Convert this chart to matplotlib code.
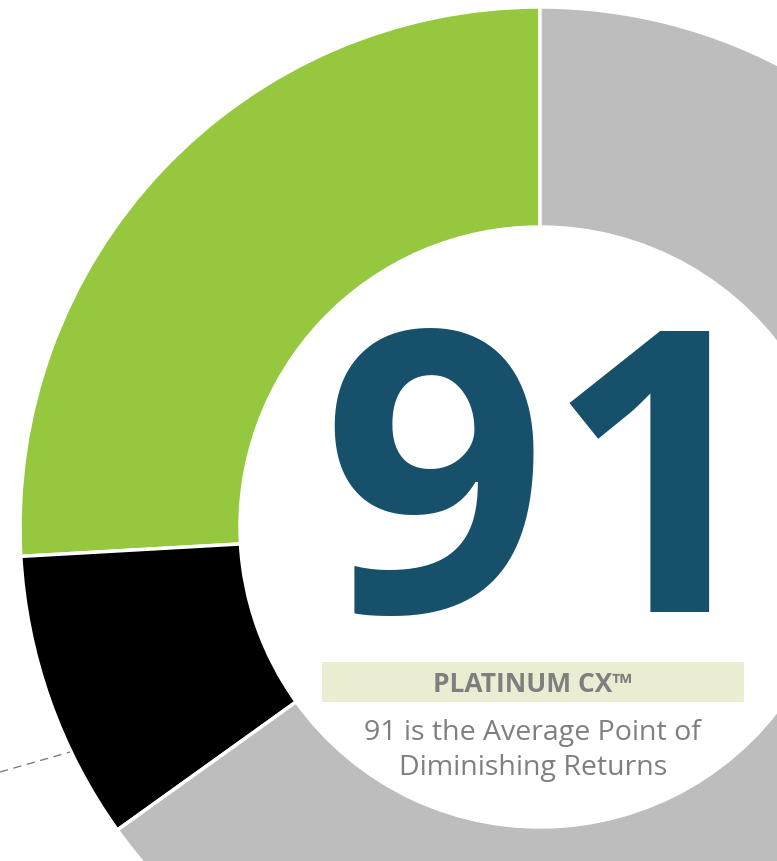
import matplotlib
matplotlib.use("Agg")
import matplotlib.pyplot as plt
from matplotlib.patches import Rectangle

# segment shares (%), starting at 12 o'clock going counter-clockwise
labels = ["Platinum", "Gap", "Other"]
shares = [25.9, 9.0, 65.1]
colors = ["#96c83f", "#000000", "#bdbdbd"]

score = "91"
badge = "PLATINUM CX\u2122"
caption = ["91 is the Average Point of", "Diminishing Returns"]

W, H = 777, 861

def fy(y):
    # pixel row (from top) -> data y
    return H - y

fig = plt.figure(figsize=(W / 100, H / 100), dpi=100)
ax = fig.add_axes([0, 0, 1, 1])
ax.set_xlim(0, W)
ax.set_ylim(0, H)
ax.set_aspect("equal")
ax.axis("off")

ax.pie(shares, colors=colors, startangle=90, counterclock=True,
       center=(540, fy(527)), radius=520,
       wedgeprops=dict(width=220, edgecolor="white", linewidth=2.5))
ax.set_xlim(0, W)
ax.set_ylim(0, H)

# leader line to an off-canvas label
ax.plot([0, 70], [fy(772), fy(752)], color="#808080", lw=1, ls=(0, (6, 4)))

ax.text(546, fy(612), score, ha="center", va="baseline", color="#17506b",
        fontsize=284, fontweight="bold", family="Open Sans")

ax.add_patch(Rectangle((322, fy(702)), 422, 40, facecolor="#ebedd3", edgecolor="none"))
ax.text(533, fy(692), badge, ha="center", va="baseline", color="#7f7f7f",
        fontsize=19, fontweight="bold", family="Open Sans")
ax.text(532, fy(740), caption[0], ha="center", va="baseline", color="#7f7f7f",
        fontsize=20.5, family="Open Sans")
ax.text(533, fy(775), caption[1], ha="center", va="baseline", color="#7f7f7f",
        fontsize=20.5, family="Open Sans")

fig.savefig("out.png", dpi=100)
